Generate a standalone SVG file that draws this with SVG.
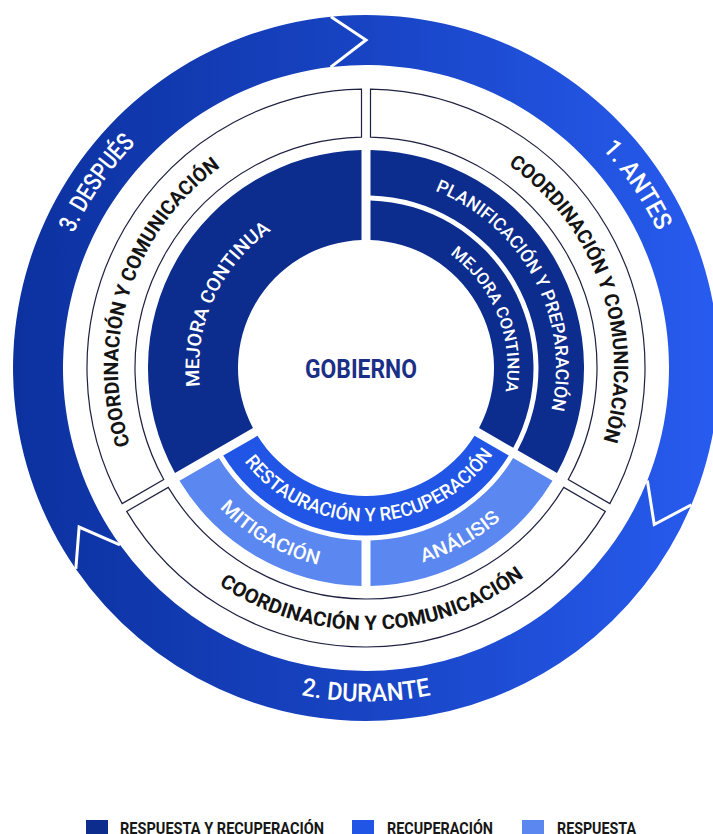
<svg xmlns="http://www.w3.org/2000/svg" width="713" height="834" viewBox="0 0 713 834">
  <style>
    .navy { fill: #0c2c8e; }
    .mid { fill: #2055e6; }
    .light { fill: #5b87f1; }
    .coord { fill: #ffffff; stroke: #1d2140; stroke-width: 1.2; }
    .sep { fill: none; stroke: #ffffff; stroke-width: 3; stroke-linejoin: miter; }
    .phase { font-family: Roboto, "Noto Sans", sans-serif; font-weight: 500; font-size: 25px; fill: #ffffff; }
    .coordtxt { font-family: Roboto, "Noto Sans", sans-serif; font-weight: 700; font-size: 20px; fill: #141414; }
    .band { font-family: Roboto, "Noto Sans", sans-serif; font-weight: 500; fill: #ffffff; }
    .legend { font-family: Roboto, "Noto Sans", sans-serif; font-weight: 700; font-size: 17px; fill: #161616; }
  </style>
  <defs>
    <linearGradient id="ringGrad" gradientUnits="userSpaceOnUse" x1="12" y1="0" x2="720" y2="0">
      <stop offset="0" stop-color="#0c319f"/>
      <stop offset="0.5" stop-color="#1844c4"/>
      <stop offset="1" stop-color="#285cf0"/>
    </linearGradient>
    <!-- text baselines; centre of the wheel is (366,368) -->
    <path id="pAntes" d="M 235.03 73.84 A 322 322 0 0 1 589.68 599.63"/>
    <path id="pDespues" d="M 140.31 597.67 A 322 322 0 0 1 499.53 74.99"/>
    <path id="pDurante" d="M 37.57 425.91 A 333.5 333.5 0 0 0 694.43 425.91"/>
    <path id="pCoordR" d="M 327.20 123.05 A 248 248 0 0 1 486.23 584.91"/>
    <path id="pCoordL" d="M 249.57 586.97 A 248 248 0 0 1 400.51 122.41"/>
    <path id="pCoordB" d="M 109.26 420.24 A 262 262 0 0 0 625.12 406.73"/>
    <path id="pMejoraL" d="M 271.41 505.63 A 167 167 0 0 1 407.81 206.32"/>
    <path id="pPlanif" d="M 307.29 187.30 A 190 190 0 0 1 482.98 517.72"/>
    <path id="pMejoraR" d="M 336.58 229.59 A 141.5 141.5 0 0 1 440.98 488.00"/>
    <path id="pRestaura" d="M 215.69 399.13 A 153.5 153.5 0 0 0 517.89 390.16"/>
    <path id="pMitiga" d="M 175.71 298.74 A 202.5 202.5 0 0 0 521.12 498.16"/>
    <path id="pAnalisis" d="M 208.63 495.44 A 202.5 202.5 0 0 0 557.47 302.07"/>
  </defs>

  <!-- outer cycle: three arrows -->
  <g id="phase-antes">
    <path fill="url(#ringGrad)" d="M 330.94 16.74 A 353 353 0 0 1 691.42 504.79 L 654.25 524.51 L 647.33 480.53 A 303 303 0 0 0 330.65 67.07 L 366 40 Z"/>
    <text class="phase"><textPath href="#pAntes" startOffset="50%" text-anchor="middle" textLength="100" lengthAdjust="spacingAndGlyphs">1. ANTES</textPath></text>
  </g>
  <g id="phase-durante">
    <path fill="url(#ringGrad)" d="M 691.42 504.79 A 353 353 0 0 1 75.82 568.96 L 79.13 527.02 L 119.94 544.81 A 303 303 0 0 0 647.33 480.53 L 654.25 524.51 Z"/>
    <text class="phase"><textPath href="#pDurante" startOffset="50%" text-anchor="middle" textLength="131" lengthAdjust="spacingAndGlyphs">2. DURANTE</textPath></text>
  </g>
  <g id="phase-despues">
    <path fill="url(#ringGrad)" d="M 75.82 568.96 A 353 353 0 0 1 330.94 16.74 L 366 40 L 330.65 67.07 A 303 303 0 0 0 119.94 544.81 L 79.13 527.02 Z"/>
    <text class="phase"><textPath href="#pDespues" startOffset="50%" text-anchor="middle" textLength="110" lengthAdjust="spacingAndGlyphs">3. DESPUÉS</textPath></text>
  </g>

  <!-- coordination ring -->
  <g id="coord-right">
    <path class="coord" d="M 370.50 89.04 A 279 279 0 0 1 609.84 503.59 L 568.27 479.58 A 231 231 0 0 0 370.50 137.04 Z"/>
    <text class="coordtxt"><textPath href="#pCoordR" startOffset="50%" text-anchor="middle" textLength="312" lengthAdjust="spacingAndGlyphs">COORDINACIÓN Y COMUNICACIÓN</textPath></text>
  </g>
  <g id="coord-bottom">
    <path class="coord" d="M 605.34 511.37 A 279 279 0 0 1 126.66 511.37 L 168.23 487.37 A 231 231 0 0 0 563.77 487.37 Z"/>
    <text class="coordtxt"><textPath href="#pCoordB" startOffset="50%" text-anchor="middle" textLength="326" lengthAdjust="spacingAndGlyphs">COORDINACIÓN Y COMUNICACIÓN</textPath></text>
  </g>
  <g id="coord-left">
    <path class="coord" d="M 122.16 503.59 A 279 279 0 0 1 361.50 89.04 L 361.50 137.04 A 231 231 0 0 0 163.73 479.58 Z"/>
    <text class="coordtxt"><textPath href="#pCoordL" startOffset="50%" text-anchor="middle" textLength="312" lengthAdjust="spacingAndGlyphs">COORDINACIÓN Y COMUNICACIÓN</textPath></text>
  </g>

  <!-- inner bands -->
  <g id="mejora-continua-left">
    <path class="navy" d="M 174.99 473.08 A 218 218 0 0 1 361.50 150.05 L 361.50 240.08 A 128 128 0 0 0 252.97 428.06 Z"/>
    <text class="band" font-size="19"><textPath href="#pMejoraL" startOffset="50%" text-anchor="middle" textLength="180" lengthAdjust="spacingAndGlyphs">MEJORA CONTINUA</textPath></text>
  </g>
  <g id="planificacion">
    <path class="navy" d="M 370.50 150.05 A 218 218 0 0 1 557.01 473.08 L 517.59 450.32 A 172.5 172.5 0 0 0 370.50 195.56 Z"/>
    <text class="band" font-size="18"><textPath href="#pPlanif" startOffset="50%" text-anchor="middle" textLength="270" lengthAdjust="spacingAndGlyphs">PLANIFICACIÓN Y PREPARACIÓN</textPath></text>
  </g>
  <g id="mejora-continua-right">
    <path class="navy" d="M 370.50 200.56 A 167.5 167.5 0 0 1 513.26 447.82 L 479.03 428.06 A 128 128 0 0 0 370.50 240.08 Z"/>
    <text class="band" font-size="16.5"><textPath href="#pMejoraR" startOffset="50%" text-anchor="middle" textLength="156" lengthAdjust="spacingAndGlyphs">MEJORA CONTINUA</textPath></text>
  </g>
  <g id="restauracion">
    <path class="mid" d="M 508.76 455.61 A 167.5 167.5 0 0 1 223.24 455.61 L 257.47 435.86 A 128 128 0 0 0 474.53 435.86 Z"/>
    <text class="band" font-size="19"><textPath href="#pRestaura" startOffset="50%" text-anchor="middle" textLength="290" lengthAdjust="spacingAndGlyphs">RESTAURACIÓN Y RECUPERACIÓN</textPath></text>
  </g>
  <g id="analisis">
    <path class="light" d="M 552.50 480.87 A 218 218 0 0 1 370.50 585.95 L 370.50 540.44 A 172.5 172.5 0 0 0 513.10 458.11 Z"/>
    <text class="band" font-size="19"><textPath href="#pAnalisis" startOffset="50%" text-anchor="middle" textLength="90" lengthAdjust="spacingAndGlyphs">ANÁLISIS</textPath></text>
  </g>
  <g id="mitigacion">
    <path class="light" d="M 361.50 585.95 A 218 218 0 0 1 179.50 480.87 L 218.90 458.11 A 172.5 172.5 0 0 0 361.50 540.44 Z"/>
    <text class="band" font-size="19"><textPath href="#pMitiga" startOffset="50%" text-anchor="middle" textLength="115" lengthAdjust="spacingAndGlyphs">MITIGACIÓN</textPath></text>
  </g>

  <g id="gobierno">
    <circle cx="366" cy="368" r="127" fill="#ffffff"/>
    <text x="361" y="378" text-anchor="middle" textLength="112" lengthAdjust="spacingAndGlyphs" font-family="Roboto, 'Noto Sans', sans-serif" font-weight="700" font-size="26" fill="#1c2f86">GOBIERNO</text>
  </g>

  <!-- white seams between the cycle arrows -->
  <g id="connectors">
    <polyline class="sep" points="330.94,16.74 366,40 330.65,67.07"/>
    <polyline class="sep" points="691.42,504.79 654.25,524.51 647.33,480.53"/>
    <polyline class="sep" points="75.82,568.96 79.13,527.02 119.94,544.81"/>
  </g>

  <!-- legend -->
  <g id="legend">
    <rect class="navy" x="86" y="820" width="22" height="22"/>
    <text class="legend" x="120" y="834" textLength="204" lengthAdjust="spacingAndGlyphs">RESPUESTA Y RECUPERACIÓN</text>
    <rect class="mid" x="352" y="820" width="22" height="22"/>
    <text class="legend" x="387" y="834" textLength="106" lengthAdjust="spacingAndGlyphs">RECUPERACIÓN</text>
    <rect class="light" x="522" y="820" width="22" height="22"/>
    <text class="legend" x="557" y="834" textLength="79" lengthAdjust="spacingAndGlyphs">RESPUESTA</text>
  </g>
</svg>
